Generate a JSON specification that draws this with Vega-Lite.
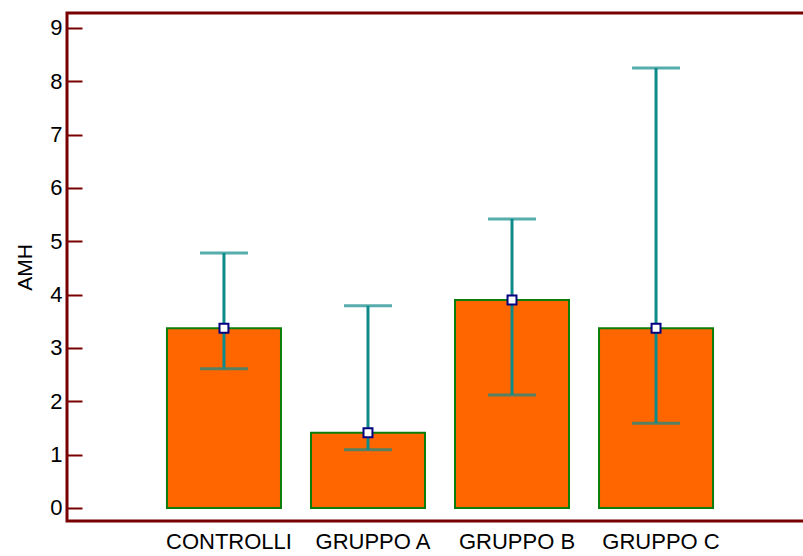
{
  "$schema": "https://vega.github.io/schema/vega-lite/v6.json",
  "autosize": "none",
  "padding": {"left": 67, "top": 13, "right": 0, "bottom": 35},
  "width": 746,
  "height": 508,
  "background": "white",
  "config": {
    "view": {"stroke": "#780000", "strokeWidth": 3},
    "font": "Liberation Sans"
  },
  "data": {
    "values": [
      {"group": "CONTROLLI", "mean": 3.37, "low": 2.61, "high": 4.78},
      {"group": "GRUPPO A", "mean": 1.41, "low": 1.09, "high": 3.79},
      {"group": "GRUPPO B", "mean": 3.90, "low": 2.12, "high": 5.42},
      {"group": "GRUPPO C", "mean": 3.37, "low": 1.59, "high": 8.25}
    ]
  },
  "encoding": {
    "x": {
      "field": "group",
      "type": "nominal",
      "sort": null,
      "scale": {"paddingInner": 0.2083, "paddingOuter": 0.694, "align": 0.5},
      "axis": {
        "title": null,
        "labelAngle": 0,
        "domain": false,
        "ticks": false,
        "labelFontSize": 22,
        "labelColor": "#000000",
        "labelPadding": 10,
        "labelOffset": 5,
        "labelFont": "Liberation Sans"
      }
    }
  },
  "layer": [
    {
      "mark": {"type": "bar", "color": "#FF6600", "stroke": "#0a7d0a", "strokeWidth": 2},
      "encoding": {
        "y": {
          "field": "mean",
          "type": "quantitative",
          "scale": {"domain": [-0.244, 9.281], "nice": false, "zero": false},
          "axis": {
            "title": "AMH",
            "titleFontSize": 21,
            "titleFontWeight": "normal",
            "titleColor": "#000000",
            "titleFont": "Liberation Sans",
            "titlePadding": 14,
            "values": [0, 0.5, 1, 1.5, 2, 2.5, 3, 3.5, 4, 4.5, 5, 5.5, 6, 6.5, 7, 7.5, 8, 8.5, 9],
            "labelExpr": "datum.value % 1 === 0 ? datum.label : ''",
            "labelFontSize": 22,
            "labelColor": "#000000",
            "labelFont": "Liberation Sans",
            "labelPadding": 20,
            "domain": false,
            "grid": false,
            "tickColor": "#780000",
            "tickWidth": 2,
            "tickSize": {"condition": {"test": "datum.value % 1 === 0", "value": -15}, "value": -9}
          }
        },
        "y2": {"datum": 0}
      }
    },
    {
      "mark": {"type": "rule", "color": "#0f8a8a", "strokeWidth": 3},
      "encoding": {
        "y": {"field": "low", "type": "quantitative"},
        "y2": {"field": "high"}
      }
    },
    {
      "mark": {"type": "tick", "color": "#0f8a8a", "thickness": 3, "size": 48, "orient": "horizontal"},
      "encoding": {"y": {"field": "high", "type": "quantitative"}}
    },
    {
      "mark": {"type": "tick", "color": "#0f8a8a", "thickness": 3, "size": 48, "orient": "horizontal"},
      "encoding": {"y": {"field": "low", "type": "quantitative"}}
    },
    {
      "mark": {"type": "point", "shape": "square", "filled": true, "fill": "white", "stroke": "#000080", "strokeWidth": 2, "size": 80, "opacity": 1},
      "encoding": {"y": {"field": "mean", "type": "quantitative"}}
    }
  ]
}
